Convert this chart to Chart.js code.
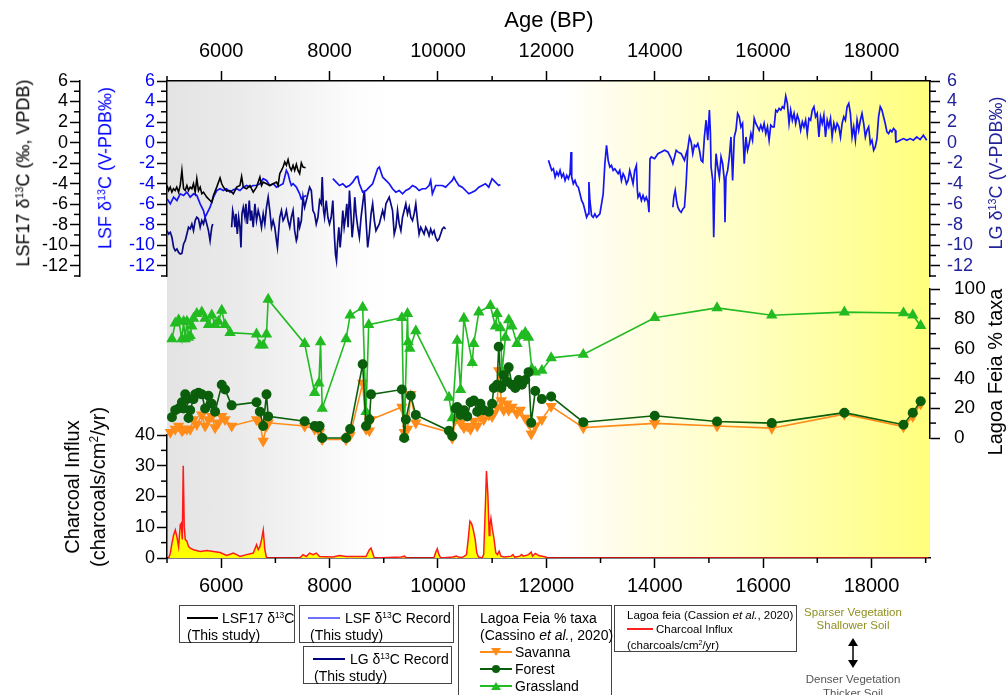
<!DOCTYPE html>
<html><head><meta charset="utf-8">
<script src="https://cdn.jsdelivr.net/npm/chart.js@4.4.1/dist/chart.umd.min.js"></script>
<style>
html,body{margin:0;padding:0;background:#fff;}
#wrap{position:relative;width:1006px;height:695px;overflow:hidden;font-family:"Liberation Sans",Arial,sans-serif;color:#000;}
#bg{position:absolute;left:167px;top:81px;width:763px;height:477px;
 background:linear-gradient(to right,#e3e3e3 0%,#ebebeb 10%,#f4f4f4 18%,#fdfdfd 25%,#ffffff 30%,#ffffff 52%,#fffde6 60%,#ffffc4 75%,#ffff9a 90%,#ffff7c 100%);}
canvas{position:absolute;left:0;top:0;}
.t{position:absolute;white-space:nowrap;line-height:1.2;}
.rot{transform:translate(-50%,-50%) rotate(-90deg);text-align:center;}
sup{font-size:0.6em;vertical-align:0.55em;line-height:0;}
.box{position:absolute;border:1.5px solid #444;box-sizing:border-box;background:#fff;}
.lg{position:absolute;white-space:nowrap;font-size:14px;line-height:16px;}
.sm{position:absolute;white-space:nowrap;font-size:11.5px;line-height:14px;}
.ln{position:absolute;height:2px;}
</style></head>
<body>
<div id="wrap">
  <div id="bg"></div>
  <canvas id="cC" width="1006" height="695"></canvas>
  <canvas id="cB" width="1006" height="695"></canvas>
  <canvas id="cA" width="1006" height="695"></canvas>

  <div class="t" style="left:549px;top:20px;transform:translate(-50%,-50%);font-size:22px;">Age (BP)</div>
  <div class="t rot" style="left:24px;top:173px;font-size:18px;">LSF17 δ<sup>13</sup>C (‰, VPDB)</div>
  <div class="t rot" style="left:106px;top:168px;font-size:18px;color:#0000ff;">LSF δ<sup>13</sup>C (V-PDB‰)</div>
  <div class="t rot" style="left:997px;top:173px;font-size:18px;color:#22229a;">LG δ<sup>13</sup>C (V-PDB‰)</div>
  <div class="t rot" style="left:995px;top:372px;font-size:20px;">Lagoa Feia % taxa</div>
  <div class="t rot" style="left:85px;top:487px;font-size:20px;line-height:26px;">Charcoal Influx<br>(charcoals/cm<sup>2</sup>/yr)</div>

  <!-- legend boxes -->
  <div class="box" style="left:179px;top:605px;width:116px;height:38px;"></div>
  <div class="ln" style="left:187px;top:617px;width:31px;background:#000;"></div>
  <div class="lg" style="left:222px;top:610px;">LSF17 δ<sup>13</sup>C</div>
  <div class="lg" style="left:187px;top:627px;">(This study)</div>

  <div class="box" style="left:299px;top:605px;width:155px;height:38px;"></div>
  <div class="ln" style="left:308px;top:617px;width:32px;background:#7070ff;"></div>
  <div class="lg" style="left:345px;top:610px;">LSF δ<sup>13</sup>C Record</div>
  <div class="lg" style="left:310px;top:627px;">(This study)</div>

  <div class="box" style="left:303px;top:646px;width:149px;height:38px;"></div>
  <div class="ln" style="left:313px;top:658px;width:32px;background:#000080;"></div>
  <div class="lg" style="left:350px;top:651px;">LG δ<sup>13</sup>C Record</div>
  <div class="lg" style="left:314px;top:668px;">(This study)</div>

  <div class="box" style="left:458px;top:605px;width:154px;height:100px;"></div>
  <div class="lg" style="left:480px;top:610px;">Lagoa Feia % taxa</div>
  <div class="lg" style="left:480px;top:627px;">(Cassino <i>et al.</i>, 2020)</div>
  <svg style="position:absolute;left:478px;top:645px;" width="36" height="14"><line x1="2" y1="7" x2="34" y2="7" stroke="#ff8c1a" stroke-width="2"/><polygon points="13,3 23,3 18,11" fill="#ff8c1a"/></svg>
  <div class="lg" style="left:515px;top:644px;">Savanna</div>
  <svg style="position:absolute;left:478px;top:662px;" width="36" height="14"><line x1="2" y1="7" x2="34" y2="7" stroke="#0b5e0b" stroke-width="2"/><circle cx="18" cy="7" r="4" fill="#0b5e0b"/></svg>
  <div class="lg" style="left:515px;top:661px;">Forest</div>
  <svg style="position:absolute;left:478px;top:679px;" width="36" height="14"><line x1="2" y1="7" x2="34" y2="7" stroke="#22bb22" stroke-width="2"/><polygon points="13,11 23,11 18,3" fill="#22bb22"/></svg>
  <div class="lg" style="left:515px;top:678px;">Grassland</div>

  <div class="box" style="left:614px;top:605px;width:183px;height:47px;"></div>
  <div class="sm" style="left:627px;top:608px;">Lagoa feia (Cassion <i>et al.</i>, 2020)</div>
  <div class="ln" style="left:627px;top:628px;width:26px;background:#ff2020;"></div>
  <div class="sm" style="left:656px;top:622px;">Charcoal Influx</div>
  <div class="sm" style="left:627px;top:638px;">(charcoals/cm<sup>2</sup>/yr)</div>

  <div class="sm" style="left:853px;top:605px;transform:translateX(-50%);color:#8f8f1f;">Sparser Vegetation</div>
  <div class="sm" style="left:853px;top:618px;transform:translateX(-50%);color:#8f8f1f;">Shallower Soil</div>
  <svg style="position:absolute;left:845px;top:637px;" width="16" height="32"><line x1="8" y1="5" x2="8" y2="27" stroke="#000" stroke-width="1.5"/><polygon points="3,9 13,9 8,1" fill="#000"/><polygon points="3,23 13,23 8,31" fill="#000"/></svg>
  <div class="sm" style="left:853px;top:672px;transform:translateX(-50%);color:#555;">Denser Vegetation</div>
  <div class="sm" style="left:853px;top:686px;transform:translateX(-50%);color:#555;">Thicker Soil</div>
</div>

<script>
// ---------------- DATA ----------------
const AGE_MIN = 5000, AGE_MAX = 19080;
const ageTicks = [6000, 8000, 10000, 12000, 14000, 16000, 18000];
const ageMinorTicks = [5000, 7000, 9000, 11000, 13000, 15000, 17000, 19000];
const d13cTicks = [-12, -10, -8, -6, -4, -2, 0, 2, 4, 6];
const d13cMinorTicks = [-13, -11, -9, -7, -5, -3, -1, 1, 3, 5];
const taxaTicks = [0, 20, 40, 60, 80, 100];
const taxaMinorTicks = [10, 30, 50, 70, 90];
const charcoalTicks = [0, 10, 20, 30, 40];
const charcoalMinorTicks = [5, 15, 25, 35];

// LSF17 d13C (black)
const lsf17Age = [5000,5030,5060,5090,5120,5150,5180,5214,5244,5275,5306,5336,5367,5397,5428,5459,5489,5520,5550,5581,5612,5642,5673,5734,5795,5826,5857,5918,5979,6010,6040,6101,6163,6224,6285,6346,6377,6408,6469,6530,6591,6652,6714,6744,6775,6836,6897,6958,7020,7050,7081,7112,7142,7173,7203,7234,7265,7295,7326,7356,7387,7418,7448,7479,7510,7558];
const lsf17D13C = [-4.18,-4.67,-4.34,-4.83,-4.5,-4.67,-4.34,-4.83,-4.18,-2.71,-4.5,-4.67,-4.18,-4.67,-4.34,-4.5,-4.01,-4.83,-3.52,-4.67,-4.34,-4.99,-4.83,-5.32,-5.64,-5.81,-5.15,-4.34,-3.43,-4.01,-4.34,-4.73,-4.67,-4.99,-4.34,-4.18,-3.3,-4.34,-4.5,-4.18,-4.83,-4.34,-3.36,-4.18,-3.85,-4.01,-4.18,-4.01,-3.85,-4.18,-3.03,-2.71,-2.38,-1.89,-2.22,-1.66,-2.38,-2.71,-2.22,-2.71,-2.12,-2.71,-3.03,-1.99,-2.38,-2.45];

// LSF d13C record (blue); null = gap
const lsfAge = [5000,5061,5122,5183,5244,5306,5367,5428,5489,5550,5612,5673,5703,5734,5795,5826,5857,5918,5979,6040,6101,6163,6224,6285,6346,6408,6469,6530,6591,6652,6714,6775,6836,6897,6958,7020,7081,7142,7203,7234,7265,7295,7326,7387,7448,7479,7510,7571,
 7800,
 8060,8122,8183,8244,8305,8367,8428,8489,8520,8550,8611,8673,8734,8795,8856,8887,8918,8948,8979,9040,9101,9162,9224,9285,9346,9407,9469,9530,9591,9652,9713,9775,9836,9866,9897,9958,10019,10080,10141,10203,10264,10294,10325,10386,10448,10509,10570,10631,10692,10754,10815,10876,10937,10999,11060,11121,11152,
 11600,
 12039,12070,12100,12131,12162,12192,12223,12253,12284,12315,12345,12376,12407,12437,12456,12468,12498,12529,12560,12590,12621,12651,12682,12713,12743,12774,12786,12804,12835,12866,12896,12927,12957,12988,13019,13049,13080,13111,13141,13172,13202,13233,13264,13325,13355,13386,13417,13447,13478,13509,13539,13570,13600,13631,13662,13680,13692,13723,13754,13784,13815,13845,13876,13894,13913,13937,13998,14059,14121,14182,14243,14304,14335,14366,14396,14427,14488,14549,14580,14611,14641,14672,14702,14733,14764,
 14795,14826,14856,14887,14917,14948,14979,15009,15028,15040,15071,15089,15113,15132,15162,15193,15224,15254,15285,15297,15315,15346,15377,15407,15438,15468,15499,15530,15560,15591,15621,15652,15683,15713,15744,15775,15805,15836,15866,15897,15928,15958,15989,16019,16050,16081,16111,16142,16172,16203,16234,16264,16295,16326,16356,16387,16418,16448,16479,16509,16540,16571,16601,16632,16662,16693,16724,16754,16785,16815,16846,16877,16907,16938,16968,16999,17030,17060,17091,17121,17152,17183,17213,17244,17274,17305,17336,17366,17397,17428,17458,17489,17519,17550,17581,17611,17642,17672,17703,17734,17764,17795,17825,17856,17887,17917,17948,17979,18009,18040,18070,18101,18131,18162,18193,18223,18254,18285,18315,18346,18376,18407,18438,18450,18468,18529,18591,18652,18713,18774,18836,18897,18958,19019,
 14300,
 14335,14353,14378,14402,14427,14457,14488,14519,14549,14580,14611];
const lsfD13C = [-5.48,-5.97,-5.32,-5.64,-4.99,-5.15,-4.83,-5.32,-4.99,-5.15,-5.97,-6.62,-7.28,-6.95,-6.3,-5.81,-5.32,-4.67,-4.5,-4.67,-4.5,-4.83,-4.6,-4.5,-4.67,-4.34,-4.18,-4.34,-4.18,-4.18,-4.01,-3.52,-3.69,-4.18,-4.01,-4.34,-4.18,-4.01,-2.71,-3.03,-3.69,-4.18,-4.01,-4.34,-4.99,-5.48,-5.32,-5.15,
 null,
 -3.52,-3.85,-4.18,-4.01,-4.34,-4.18,-3.85,-3.36,-3.3,-4.01,-4.83,-4.67,-4.34,-4.01,-3.03,-2.55,-2.38,-2.87,-3.36,-3.69,-4.01,-4.5,-4.83,-4.67,-4.99,-4.67,-4.5,-4.18,-4.34,-4.67,-4.5,-4.5,-4.18,-3.69,-4.99,-4.18,-4.18,-4.18,-4.34,-4.01,-3.69,-3.36,-3.69,-4.18,-4.34,-4.67,-4.99,-4.83,-4.67,-4.34,-4.18,-4.01,-4.34,-3.52,-3.85,-4.18,-4.08,
 null,
 -1.73,-2.22,-2.71,-2.55,-3.36,-2.87,-3.2,-2.71,-3.36,-3.03,-3.69,-3.2,-3.52,-3.03,-0.91,-3.36,-4.01,-3.69,-4.18,-4.34,-4.99,-5.64,-5.97,-6.62,-7.28,-6.95,-3.85,-5.64,-7.11,-7.28,-6.95,-7.28,-7.11,-6.95,-5.97,-4.99,-2.06,-0.26,-1.73,-2.38,-2.22,-2.71,-2.55,-3.03,-2.71,-3.69,-3.03,-3.36,-4.01,-3.69,-2.71,-3.36,-4.01,-2.71,-2.22,-4.67,-5.32,-4.99,-5.64,-5.15,-5.64,-5.32,-5.81,-6.79,-1.57,-1.4,-1.57,-1.08,-0.91,-0.75,-0.91,-1.57,-2.06,-1.4,-0.75,-0.91,-1.08,-1.73,-1.08,-0.59,0.55,0.06,-1.08,-0.26,-0.42,
 -0.1,-0.75,-1.73,-1.89,0.55,2.18,0.23,3.16,0.88,-2.38,-3.69,-9.23,-3.36,-1.08,-2.38,-3.36,-1.4,-2.06,-3.69,-7.76,-3.36,-2.71,-1.4,0.55,-3.69,0.55,1.2,2.84,2.51,1.53,1.86,-2.06,0.55,-0.75,-0.1,0.88,0.23,2.35,1.86,1.53,1.2,1.69,1.2,1.86,0.88,1.53,0.23,1.69,1.53,1.53,3.16,3.0,3.33,3.16,3.49,3.33,4.53,3.81,1.86,3.16,2.18,2.84,1.86,2.67,2.18,1.2,2.02,1.53,2.18,0.88,2.35,2.18,3.16,3.49,2.51,2.84,0.55,2.51,1.86,2.67,0.55,2.18,1.53,2.35,0.55,1.86,1.2,1.86,1.53,0.55,1.86,2.51,2.18,3.49,3.81,2.84,0.55,1.53,0.23,2.18,1.2,2.18,2.84,1.86,0.55,1.2,1.53,-0.1,0.23,-0.75,-0.42,0.39,2.51,3.49,3.16,2.51,1.86,1.04,0.88,1.2,1.04,1.37,1.2,0.06,0.06,0.23,0.39,0.23,0.39,0.23,0.55,0.29,0.72,0.23,
 null,
 -6.3,-5.32,-4.67,-5.64,-6.3,-6.62,-6.79,-6.46,-6.3,-4.01,-0.59];

// LG d13C record (navy); null = gap
const lgAge = [5000,5030,5061,5091,5122,5152,5183,5214,5244,5275,5306,5336,5367,5397,5428,5459,5489,5520,5550,5581,5612,5642,5673,5703,5734,5765,5795,5826,5844,
 6000,
 6193,6212,6236,6254,6273,6297,6322,6346,6365,6383,6408,6438,6456,6481,6499,6518,6542,6561,6591,6622,6652,6683,6714,6744,6775,6805,6836,6867,6897,6928,6958,6989,7020,7038,7056,7081,7112,7142,7173,7203,7234,7265,7295,7326,7356,7387,7405,7424,7448,7479,7510,7540,7571,7601,7632,7663,7693,7724,7754,7785,7816,7846,7864,7889,7907,7938,7969,7999,8030,8060,8091,8109,8128,8146,8171,8195,8220,8244,8269,8293,8318,8342,8367,8391,8416,8440,8465,8489,8520,8550,8581,8611,8642,8673,8703,8734,8765,8795,8826,8856,8887,8918,8948,8979,9009,9040,9071,9101,9132,9162,9193,9224,9254,9285,9316,9346,9377,9407,9438,9469,9499,9530,9560,9591,9622,9652,9683,9713,9744,9775,9805,9836,9866,9897,9928,9958,9989,10019,10050,10081,10111,10142];
const lgD13C = [-8.58,-8.91,-8.74,-9.23,-10.21,-10.54,-10.37,-10.7,-10.86,-10.8,-9.88,-9.56,-8.91,-8.25,-8.42,-7.93,-8.58,-7.6,-7.28,-7.44,-8.25,-7.6,-7.93,-7.28,-7.93,-8.58,-9.56,-8.25,-7.93,
 null,
 -8.25,-6.62,-7.28,-8.25,-6.95,-8.91,-7.28,-8.25,-10.21,-6.95,-6.3,-7.28,-5.97,-7.93,-6.95,-5.64,-7.6,-6.62,-8.25,-5.97,-7.6,-6.62,-7.28,-8.25,-6.95,-7.93,-6.3,-5.32,-6.62,-8.25,-7.6,-8.25,-9.56,-10.21,-8.91,-7.28,-6.62,-7.6,-7.28,-6.62,-7.6,-8.25,-7.28,-6.62,-8.58,-9.56,-9.23,-7.28,-8.25,-7.6,-5.32,-6.3,-5.64,-4.99,-4.34,-4.67,-6.62,-6.95,-7.93,-7.28,-5.64,-5.97,-3.36,-6.62,-7.28,-5.64,-7.28,-7.93,-7.28,-5.64,-9.23,-10.86,-11.51,-9.88,-8.25,-10.21,-8.58,-6.62,-8.25,-7.28,-5.97,-8.25,-4.67,-6.62,-9.23,-7.93,-5.32,-6.95,-8.25,-9.23,-7.28,-5.97,-4.67,-7.6,-10.21,-8.91,-6.95,-5.97,-7.6,-8.58,-8.25,-7.93,-7.28,-6.62,-7.28,-5.97,-5.64,-5.32,-5.97,-6.62,-8.91,-8.25,-6.62,-7.93,-8.58,-7.28,-6.62,-5.97,-6.95,-6.3,-7.28,-7.6,-6.95,-5.97,-7.6,-8.91,-8.25,-8.58,-8.91,-8.25,-8.58,-9.07,-8.42,-8.91,-8.58,-9.23,-9.56,-9.39,-8.91,-8.42,-8.25,-8.42];

// Lagoa Feia % taxa
const grassAge = [5091,5152,5214,5275,5306,5336,5367,5397,5428,5459,5489,5550,5642,5703,5765,5826,5887,5948,6010,6071,6163,6652,6714,6775,6836,6867,7540,7724,7803,7834,7864,8305,8379,8611,8673,8722,9334,9377,9438,9450,9481,9591,10203,10264,10356,10417,10479,10632,10662,10754,10968,11060,11091,11152,11183,11244,11305,11366,11458,11550,11611,11672,11733,11795,11917,12089,12682,14000,15150,16160,17500,18590,18762,18908];
const grassPct = [66.5,77.1,79.2,66.5,78.2,66.5,78.2,67.5,68.6,75.0,80.3,83.5,84.5,80.3,76.0,82.4,76.0,78.2,85.6,76.0,70.7,69.7,62.2,62.2,69.7,93.0,63.3,30.4,36.8,64.4,19.8,66.5,82.4,87.7,17.6,76.0,80.7,0.7,83.5,64.4,60.1,71.8,27.2,13.4,65.4,32.5,80.3,50.6,63.3,84.5,88.8,75.0,83.5,73.9,44.2,67.5,79.2,75.0,63.3,68.6,70.7,67.5,46.3,44.2,45.3,53.8,56.0,80.7,87.3,82.4,84.5,83.9,82.4,75.4];
const forestAge = [5091,5152,5214,5275,5306,5336,5367,5397,5428,5489,5520,5581,5642,5703,5765,5826,5887,6010,6071,6193,6652,6714,6775,6836,6867,7540,7724,7785,7816,7864,8305,8379,8611,8673,8734,8765,9334,9377,9408,9499,9591,10203,10264,10325,10356,10417,10479,10540,10601,10662,10724,10785,10846,10938,10999,11030,11091,11121,11170,11213,11274,11305,11366,11427,11489,11550,11611,11672,11721,11795,11917,12089,12682,14000,15150,16160,17500,18590,18762,18908];
const forestPct = [14.0,18.7,19.8,24.0,19.8,29.3,26.1,13.4,18.7,26.1,29.3,30.4,29.3,19.8,28.3,23.0,17.7,35.7,32.5,21.9,24.0,17.7,8.1,29.3,14.5,11.3,8.1,7.0,8.1,0,0,6.0,49.5,8.1,12.4,29.3,32.5,0,12.4,28.3,15.5,4.9,1.3,19.8,20.8,15.5,18.7,14.5,24.0,25.1,17.7,23.0,18.7,17.7,23.0,33.6,35.7,61.2,33.6,42.1,37.8,47.4,35.7,33.6,38.9,35.7,38.9,44.2,10.2,31.5,26.1,27.8,10.6,14.9,11.1,10.0,17.0,8.9,17.0,24.7];
const savannaAge = [5061,5152,5214,5275,5306,5367,5428,5489,5550,5642,5703,5765,5826,5887,5948,6010,6071,6193,6652,6714,6775,6836,6867,7540,7724,7816,7864,8305,8379,8611,8673,8734,8765,9334,9377,9438,9499,9591,10203,10264,10325,10417,10479,10540,10601,10662,10724,10785,10846,10938,10999,11030,11091,11121,11170,11213,11274,11305,11366,11458,11519,11611,11672,11721,11795,11917,12089,12682,14000,15150,16160,17500,18590,18762,18908];
const savannaPct = [3.9,6.0,8.1,4.9,6.0,6.0,6.0,12.4,9.2,15.5,8.1,12.4,14.5,7.0,10.2,14.5,12.4,8.1,12.4,10.2,-2.0,8.1,10.2,8.1,6.0,3.9,-1.0,-1.0,1.7,36.8,6.0,4.9,12.4,20.8,3.9,6.0,29.3,10.2,3.9,0,12.4,10.2,7.0,8.1,6.0,11.3,8.1,14.5,12.4,15.5,14.5,16.6,20.8,45.3,25.1,18.7,23.0,18.7,20.8,16.6,18.7,13.4,10.2,2.8,8.1,12.4,21.3,7.0,9.8,8.1,6.6,16.0,7.7,14.5,23.0];

// Charcoal influx
const charcoalAge = [5031,5061,5092,5122,5153,5183,5214,5245,5263,5282,5300,5318,5337,5367,5398,5429,5490,5612,5735,5857,5980,6102,6225,6286,6347,6469,6592,6653,6684,6714,6745,6776,6806,6837,7449,7510,7571,7632,7694,7755,7816,8061,8183,8306,8673,8734,8765,8795,8826,9321,9384,9416,9924,9956,9987,10019,10051,10273,10337,10400,10463,10527,10559,10590,10622,10654,10686,10717,10749,10813,10844,10876,10895,10921,10946,10959,10978,11003,11035,11067,11098,11130,11162,11225,11352,11384,11416,11511,11543,11575,11670,11721,11746,11797,11860,11987,12019,19050];
const charcoalInflux = [0,1.5,4.8,7.5,9.1,6.9,3.7,10.8,11.3,6.0,30.0,10.2,6.0,5.5,3.7,3.2,2.7,2.1,2.4,2.1,1.8,0.8,1.6,1.1,0.5,1.1,1.6,4.3,2.7,3.7,6.0,9.1,2.7,0,0,1.1,0.5,1.6,1.1,1.6,0.5,0.3,0.8,0.5,0.5,2.7,3.2,1.6,0,0.3,0.6,0,0,1.7,3.0,1.1,0,0.3,0.6,0.2,0.3,1.1,6.2,12.0,11.2,9.0,6.2,1.7,0.3,0,1.1,17.4,28.3,20.7,7.3,10.7,12.9,9.5,6.2,1.7,1.1,2.2,0.6,0.3,0.6,1.1,0.3,0.6,1.1,0.6,1.1,1.9,0.6,1.5,0.8,0.3,0,0];

// ---------------- HELPERS ----------------
const FONT = '"Liberation Sans", Arial, sans-serif';
const pts = (xs, ys) => xs.map((x, i) => ({x: x, y: ys[i]}));
const setTicks = arr => (s => { s.ticks = arr.map(v => ({value: v})); });
const fixW = w => (s => { s.width = w; });
const fixH = h => (s => { s.height = h; });

const minorTickPlugin = {
  id: 'minorTicks',
  afterDraw(chart, args, opts) {
    const ctx = chart.ctx;
    (opts.items || []).forEach(it => {
      const s = chart.scales[it.scale];
      if (!s) return;
      ctx.save();
      ctx.strokeStyle = '#000';
      ctx.lineWidth = 1.5;
      it.values.forEach(v => {
        const p = s.getPixelForValue(v);
        ctx.beginPath();
        if (s.position === 'left') { ctx.moveTo(s.right, p); ctx.lineTo(s.right - it.len, p); }
        else if (s.position === 'right') { ctx.moveTo(s.left, p); ctx.lineTo(s.left + it.len, p); }
        else if (s.position === 'top') { ctx.moveTo(p, s.bottom); ctx.lineTo(p, s.bottom - it.len); }
        else { ctx.moveTo(p, s.top); ctx.lineTo(p, s.top + it.len); }
        ctx.stroke();
      });
      ctx.restore();
    });
  }
};

function yAxis(pos, min, max, ticks, color, width, padding, weight, size) {
  return {
    type: 'linear', position: pos, min: min, max: max, weight: weight || 0,
    afterBuildTicks: setTicks(ticks), afterFit: fixW(width),
    grid: {drawOnChartArea: false, tickLength: 10, color: '#000', tickWidth: 1.5},
    border: {display: true, color: '#000', width: 1.5},
    ticks: {autoSkip: false, padding: padding, color: color, font: {family: FONT, size: size || 18}, callback: v => String(v)}
  };
}
function xAxis(pos, height, padding, display) {
  return {
    type: 'linear', position: pos, min: AGE_MIN, max: AGE_MAX, display: display,
    afterBuildTicks: setTicks(ageTicks), afterFit: fixH(height),
    grid: {drawOnChartArea: false, tickLength: 10, color: '#000', tickWidth: 1.5},
    border: {display: true, color: '#000', width: 1.5},
    ticks: {autoSkip: false, maxRotation: 0, padding: padding, color: '#000', font: {family: FONT, size: 20}, callback: v => String(v)}
  };
}
const baseOpts = {
  responsive: false, animation: false, devicePixelRatio: 1,
  plugins: {legend: {display: false}, tooltip: {enabled: false}},
  elements: {line: {tension: 0}, point: {radius: 0}}
};

// ---------------- CHART A: d13C ----------------
new Chart(document.getElementById('cA'), {
  type: 'line',
  data: {datasets: [
    {label: 'LSF17 δ13C', data: pts(lsf17Age, lsf17D13C), xAxisID: 'x', yAxisID: 'yBlack', borderColor: '#000000', borderWidth: 1.6, pointRadius: 0, spanGaps: false},
    {label: 'LSF δ13C Record', data: pts(lsfAge, lsfD13C), xAxisID: 'x', yAxisID: 'yBlue', borderColor: '#1414f5', borderWidth: 1.7, pointRadius: 0, spanGaps: false},
    {label: 'LG δ13C Record', data: pts(lgAge, lgD13C), xAxisID: 'x', yAxisID: 'yLG', borderColor: '#0a0a85', borderWidth: 1.7, pointRadius: 0, spanGaps: false}
  ]},
  options: Object.assign({}, baseOpts, {
    layout: {padding: {top: 0, left: 0, right: 0, bottom: 419}},
    scales: {
      x: xAxis('top', 81, 8, true),
      yBlack: yAxis('left', -13, 6, d13cTicks, '#000', 80, 2, 2, 18),
      yBlue: yAxis('left', -13, 6, d13cTicks, '#0000ff', 87, 2, 1, 18),
      yLG: yAxis('right', -13, 6, d13cTicks, '#22229a', 76, 7, 0, 18)
    },
    plugins: {legend: {display: false}, tooltip: {enabled: false},
      minorTicks: {items: [
        {scale: 'x', values: ageMinorTicks, len: 5},
        {scale: 'yBlack', values: d13cMinorTicks, len: 6},
        {scale: 'yBlue', values: d13cMinorTicks, len: 6},
        {scale: 'yLG', values: d13cMinorTicks, len: 6}
      ]}}
  }),
  plugins: [minorTickPlugin]
});

// ---------------- CHART B: % taxa ----------------
new Chart(document.getElementById('cB'), {
  type: 'line',
  data: {datasets: [
    {label: 'Forest', data: pts(forestAge, forestPct), xAxisID: 'x', yAxisID: 'yTaxa', borderColor: '#0b5e0b', backgroundColor: '#0b5e0b', borderWidth: 1.6, pointStyle: 'circle', pointRadius: 4.2, clip: false},
    {label: 'Grassland', data: pts(grassAge, grassPct), xAxisID: 'x', yAxisID: 'yTaxa', borderColor: '#22bb22', backgroundColor: '#22bb22', borderWidth: 1.6, pointStyle: 'triangle', pointRadius: 5, clip: false},
    {label: 'Savanna', data: pts(savannaAge, savannaPct), xAxisID: 'x', yAxisID: 'yTaxa', borderColor: '#ff8c1a', backgroundColor: '#ff8c1a', borderWidth: 1.6, pointStyle: 'triangle', pointRotation: 180, pointRadius: 5, clip: false}
  ]},
  options: Object.assign({}, baseOpts, {
    layout: {padding: {top: 289, left: 167, right: 0, bottom: 247}},
    scales: {
      x: xAxis('bottom', 10, 0, false),
      yTaxa: yAxis('right', 0, 100, taxaTicks, '#000', 76, 14, 0, 19)
    },
    plugins: {legend: {display: false}, tooltip: {enabled: false},
      minorTicks: {items: [{scale: 'yTaxa', values: taxaMinorTicks, len: 6}]}}
  }),
  plugins: [minorTickPlugin]
});

// ---------------- CHART C: charcoal ----------------
new Chart(document.getElementById('cC'), {
  type: 'line',
  data: {datasets: [
    {label: 'Charcoal Influx', data: pts(charcoalAge, charcoalInflux), xAxisID: 'x', yAxisID: 'yChar', borderColor: '#ff1a1a', backgroundColor: '#ffff00', borderWidth: 1.5, pointRadius: 0, fill: 'origin'}
  ]},
  options: Object.assign({}, baseOpts, {
    layout: {padding: {top: 435, left: 0, right: 76, bottom: 87}},
    scales: {
      x: xAxis('bottom', 50, 6, true),
      yChar: yAxis('left', 0, 40, charcoalTicks, '#000', 167, 2, 0, 18)
    },
    plugins: {legend: {display: false}, tooltip: {enabled: false},
      minorTicks: {items: [
        {scale: 'x', values: ageMinorTicks, len: 5},
        {scale: 'yChar', values: charcoalMinorTicks, len: 6}
      ]}}
  }),
  plugins: [minorTickPlugin]
});
</script>
</body></html>
